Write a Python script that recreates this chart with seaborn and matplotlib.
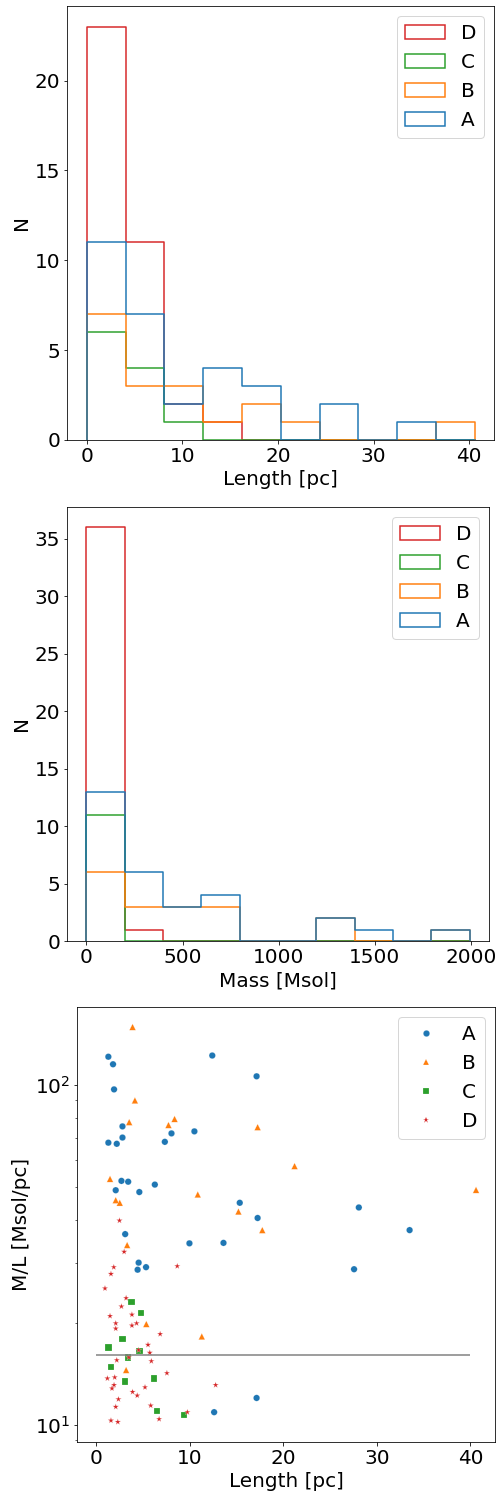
import numpy as np
import pandas as pd
import matplotlib
matplotlib.use('Agg')
import matplotlib.pyplot as plt
from matplotlib.patches import Patch
import seaborn as sns

# Grupos y estilos
groups = ['A', 'B', 'C', 'D']
colors = ['#1f77b4', '#ff7f0e', '#2ca02c', '#d62728']
markers = ['o', '^', 's', '*']

# Datos: longitud [pc] y M/L [Msol/pc] por grupo
a_length = [1.29, 1.79, 12.4, 1.90, 2.80, 2.80, 1.29, 2.19, 8.04, 7.33,
            10.49, 2.69, 3.41, 2.08, 4.60, 6.26, 3.09, 9.96, 13.6, 4.53,
            5.32, 4.42, 12.6, 17.14, 15.34, 17.25, 28.07, 33.5, 27.56, 17.14]
a_ml = [121, 115, 122, 97, 75.5, 70, 67.6, 67.1, 72, 68,
        73, 52.2, 51.9, 49.0, 48.4, 50.9, 36.4, 34.2, 34.3, 30.0,
        29.1, 28.6, 10.9, 106, 45.0, 40.6, 43.6, 37.4, 28.7, 12.0]

b_length = [3.88, 4.13, 3.52, 8.37, 7.72, 17.25, 1.47, 2.08, 2.51, 10.85,
            3.30, 5.35, 11.28, 3.19, 21.2, 40.6, 15.2, 17.75]
b_ml = [148, 90, 77.7, 79.4, 76.2, 75.1, 52.9, 45.8, 45.0, 47.6,
        33.8, 19.8, 18.2, 14.5, 57.7, 49.1, 42.4, 37.4]

c_length = [3.77, 4.78, 2.80, 1.29, 4.60, 3.41, 1.57, 3.09, 6.15, 6.50, 9.38]
c_ml = [23.0, 21.3, 17.9, 16.9, 16.5, 15.8, 14.8, 13.4, 13.7, 11.0, 10.7]

d_length = [2.48, 2.98, 1.87, 1.57, 0.93, 8.66, 3.19, 2.69, 1.47, 3.81,
            2.08, 2.08, 3.81, 4.31, 6.83, 5.53, 4.53, 5.72, 3.48, 2.19,
            5.89, 7.55, 1.19, 1.97, 1.90, 1.68, 12.76, 5.21, 3.88, 4.38,
            2.37, 2.08, 5.82, 9.74, 6.72, 1.57, 2.30]
d_ml = [39.9, 32.3, 29.1, 27.8, 25.2, 29.3, 23.6, 22.3, 20.9, 21.1,
        19.9, 19.2, 19.6, 19.9, 18.5, 17.2, 16.6, 16.3, 15.8, 15.5,
        15.4, 14.2, 13.7, 13.8, 13.1, 12.8, 13.1, 12.9, 12.5, 12.2,
        11.9, 11.3, 11.4, 10.9, 10.4, 10.3, 10.2]

# Linea horizontal de referencia en M/L
ml_line = 16.1

# Armar dataframe largo
frames = []
for g, L, ml in zip(groups, [a_length, b_length, c_length, d_length],
                    [a_ml, b_ml, c_ml, d_ml]):
    frames.append(pd.DataFrame({'group': g, 'length': L, 'ml': ml}))
df = pd.concat(frames, ignore_index=True)
df['mass'] = df['length'] * df['ml']

len_bins = np.linspace(0, df['length'].max(), 11)
mass_bins = np.linspace(0, df['mass'].max(), 11)

fs = 20
plt.rcParams['font.size'] = fs

fig = plt.figure(figsize=(498 / 72, 1492 / 72), dpi=72)
ax1 = fig.add_axes([0.1351, 0.7051, 0.8574, 0.2909])
ax2 = fig.add_axes([0.1351, 0.3693, 0.8468, 0.2911])
ax3 = fig.add_axes([0.1552, 0.0337, 0.8388, 0.2912])

legend_handles = [Patch(facecolor='none', edgecolor=c, lw=1.5, label=g)
                  for g, c in reversed(list(zip(groups, colors)))]


def close_steps(ax):
    # bajar los extremos de cada contorno hasta cero, como histtype='step'
    for line in ax.lines:
        x, y = line.get_data()
        x = np.asarray(x, dtype=float)
        y = np.asarray(y, dtype=float)
        line.set_data(np.r_[x[0], x, x[-1]], np.r_[0, y, 0])


# Histograma de longitudes
sns.histplot(data=df, x='length', hue='group', hue_order=groups, palette=colors,
             bins=len_bins, element='step', fill=False, linewidth=1.5,
             legend=False, ax=ax1)
close_steps(ax1)
ax1.set_xlabel('Length [pc]', fontsize=fs)
ax1.set_ylabel('N', fontsize=fs)
ax1.legend(handles=legend_handles, loc='upper right', fontsize=fs)

# Histograma de masas
sns.histplot(data=df, x='mass', hue='group', hue_order=groups, palette=colors,
             bins=mass_bins, element='step', fill=False, linewidth=1.5,
             legend=False, ax=ax2)
close_steps(ax2)
ax2.set_xlabel('Mass [Msol]', fontsize=fs)
ax2.set_ylabel('N', fontsize=fs)
ax2.legend(handles=legend_handles, loc='upper right', fontsize=fs)

# M/L vs longitud
sns.scatterplot(data=df, x='length', y='ml', hue='group', style='group',
                hue_order=groups, style_order=groups, palette=colors,
                markers=dict(zip(groups, markers)), s=42,
                edgecolor='white', linewidth=0.2, ax=ax3)
ax3.hlines(ml_line, 0, 40, color='gray', lw=1.5)
ax3.set_yscale('log')
ax3.set_xlabel('Length [pc]', fontsize=fs)
ax3.set_ylabel('M/L [Msol/pc]', fontsize=fs)
h, l = ax3.get_legend_handles_labels()
keep = [(hh, ll) for hh, ll in zip(h, l) if ll in groups]
ax3.legend([k[0] for k in keep], [k[1] for k in keep], loc='upper right', fontsize=fs)

fig.savefig('out.png', dpi=72)
